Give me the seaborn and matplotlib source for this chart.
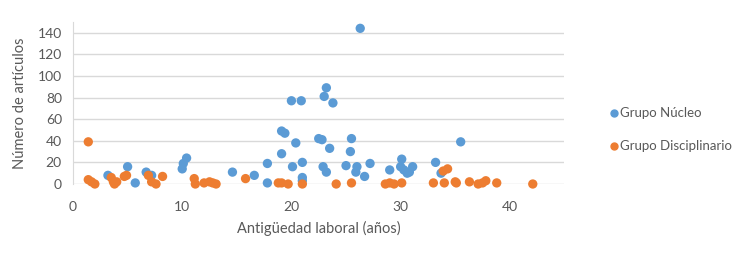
import matplotlib
matplotlib.use("Agg")
import matplotlib.pyplot as plt
import pandas as pd
import seaborn as sns

# Colores (tema Office)
blue = "#5B9BD5"
orange = "#ED7D31"
grey_txt = "#595959"
grid_c = "#D9D9D9"

# Grupo Núcleo
nucleo_x = [3.2, 5.0, 5.7, 6.7, 7.2, 10.0, 10.1, 10.4, 14.6, 16.6,
            17.8, 17.8, 19.1, 19.4, 19.1, 20.0, 20.9, 20.4, 20.1, 21.0,
            21.0, 21.0, 22.5, 22.8, 23.0, 23.2, 23.8, 23.5, 22.9, 23.2,
            26.3, 25.5, 25.4, 25.0, 26.0, 25.9, 26.7, 27.2, 29.0, 30.1,
            30.0, 30.3, 30.6, 31.1, 30.8, 33.2, 33.7, 35.5]
nucleo_y = [8, 16, 1, 11, 8, 14, 19, 24, 11, 8,
            19, 1, 49, 47, 28, 77, 77, 38, 16, 20,
            6, 3, 42, 41, 81, 89, 75, 33, 16, 11,
            144, 42, 30, 17, 16, 11, 7, 19, 13, 23,
            16, 13, 10, 16, 11, 20, 10, 39]

# Grupo Disciplinario
disc_x = [1.4, 1.4, 1.7, 2.0, 3.5, 3.7, 3.8, 4.0, 4.7, 4.9,
          6.9, 7.2, 7.6, 8.2, 11.1, 11.2, 12.0, 12.5, 12.8, 13.1,
          15.8, 18.8, 19.1, 19.7, 21.0, 24.1, 25.5, 28.6, 29.0, 29.4,
          30.1, 33.0, 34.0, 33.9, 34.3, 35.0, 35.1, 36.3, 37.1, 37.8,
          37.5, 38.8, 42.1]
disc_y = [39, 4, 2, 0, 6, 2, 0, 2, 7, 8,
          8, 2, 0, 7, 5, 0, 1, 2, 1, 0,
          5, 1, 1, 0, 0, 0, 1, 0, 1, 0,
          1, 1, 1, 12, 14, 2, 1, 2, 0, 3,
          1, 1, 0]

df = pd.DataFrame({
    "x": nucleo_x + disc_x,
    "y": nucleo_y + disc_y,
    "grupo": ["Grupo Núcleo"] * len(nucleo_x) + ["Grupo Disciplinario"] * len(disc_x),
})

sns.set_style("white")
plt.rcParams["font.family"] = ["Lato", "DejaVu Sans"]

fig = plt.figure(figsize=(7.48, 2.73), dpi=100)
ax = fig.add_axes([0.0976, 0.326, 0.657, 0.594])

sns.scatterplot(data=df, x="x", y="y", hue="grupo",
                palette={"Grupo Núcleo": blue, "Grupo Disciplinario": orange},
                s=45, edgecolor="none", ax=ax, legend=False, zorder=3,
                clip_on=False)

ax.set_xlim(0, 45)
ax.set_ylim(0, 150)
ax.set_xticks([0, 10, 20, 30, 40])
ax.set_yticks(range(0, 141, 20))
ax.yaxis.grid(True, color=grid_c, linewidth=1)
ax.set_axisbelow(True)
for side in ["top", "right", "bottom"]:
    ax.spines[side].set_visible(False)
ax.spines["left"].set_color(grid_c)
ax.tick_params(axis="y", length=0, labelsize=10, colors=grey_txt, pad=8)
ax.tick_params(axis="x", length=0, labelsize=10, colors=grey_txt, pad=12)
ax.set_xlabel("Antigüedad laboral (años)", fontsize=10.5, color=grey_txt, labelpad=6)
ax.set_ylabel("Número de artículos", fontsize=10.5, color=grey_txt, labelpad=8)

handles = [plt.Line2D([], [], marker="o", linestyle="", color=blue, markersize=5),
           plt.Line2D([], [], marker="o", linestyle="", color=orange, markersize=5)]
fig.legend(handles, ["Grupo Núcleo", "Grupo Disciplinario"],
           loc="center left", bbox_to_anchor=(0.8, 0.525), frameon=False,
           handlelength=0.5, handletextpad=0.2, labelspacing=1.6,
           fontsize=9.5, labelcolor=grey_txt)

fig.savefig("out.png", dpi=100)
